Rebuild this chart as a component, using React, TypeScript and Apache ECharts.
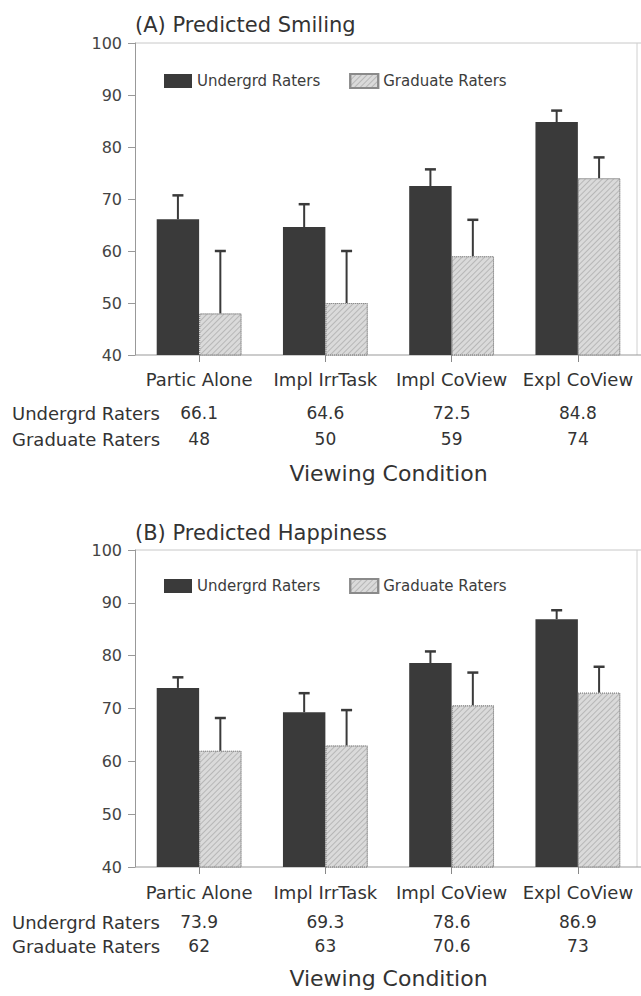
import React, { useEffect, useRef } from "react";
import * as echarts from "echarts";

const categories = ["Partic Alone", "Impl IrrTask", "Impl CoView", "Expl CoView"];
const seriesNames = ["Undergrd Raters", "Graduate Raters"];

// (A) Predicted Smiling
const smileUnder = [66.1, 64.6, 72.5, 84.8];
const smileGrad = [48, 50, 59, 74];
const smileUnderErrTop = [70.7, 69, 75.7, 87];
const smileGradErrTop = [60, 60, 66, 78];

// (B) Predicted Happiness
const happyUnder = [73.9, 69.3, 78.6, 86.9];
const happyGrad = [62, 63, 70.6, 73];
const happyUnderErrTop = [75.9, 72.9, 80.8, 88.6];
const happyGradErrTop = [68.2, 69.7, 76.8, 77.9];

const yTicks = { min: 40, max: 100, interval: 10 };

const FONT = "DejaVu Sans";
const TEXT = "#333";
const DARK = "#3a3a3a";
const BAR_FRAC = 0.336;

const panels = [
  { title: "(A) Predicted Smiling", under: smileUnder, grad: smileGrad, uErr: smileUnderErrTop, gErr: smileGradErrTop },
  { title: "(B) Predicted Happiness", under: happyUnder, grad: happyGrad, uErr: happyUnderErrTop, gErr: happyGradErrTop },
];

const layout = [
  { top: 43, height: 312, titleTop: 13, legendTop: 73, lab: 24, row1: 58, row2: 84, nameGap: 118 },
  { top: 550, height: 317, titleTop: 521, legendTop: 578, lab: 25, row1: 55, row2: 79, nameGap: 111 },
];

function errRender(side: number) {
  return (params: any, api: any) => {
    const i = api.value(0);
    const top = api.coord([i, api.value(1)]);
    const base = api.coord([i, api.value(2)]);
    const band = api.size([1, 0])[0];
    const x = top[0] + (side * band * BAR_FRAC) / 2;
    return {
      type: "group",
      children: [
        { type: "line", shape: { x1: x, y1: base[1], x2: x, y2: top[1] }, style: { stroke: DARK, lineWidth: 2 } },
        { type: "line", shape: { x1: x - 5.5, y1: top[1], x2: x + 5.5, y2: top[1] }, style: { stroke: DARK, lineWidth: 2.5 } },
      ],
    };
  };
}

export default function App() {
  const ref = useRef<HTMLDivElement>(null);
  useEffect(() => {
    if (!ref.current) return;
    const chart = echarts.init(ref.current, null, { renderer: "svg" });

    const grids: any[] = [];
    const xAxes: any[] = [];
    const yAxes: any[] = [];
    const series: any[] = [];
    const titles: any[] = [];
    const legends: any[] = [];
    const graphics: any[] = [];

    panels.forEach((p, k) => {
      const L = layout[k];
      grids.push({ left: 136, top: L.top, width: 512, height: L.height });
      titles.push({
        text: p.title,
        left: 135,
        top: L.titleTop,
        padding: 0,
        textStyle: { fontFamily: FONT, fontSize: 21, fontWeight: "normal", color: TEXT, lineHeight: 24 },
      });
      legends.push({
        data: seriesNames,
        left: 164,
        top: L.legendTop,
        padding: 0,
        itemWidth: 28,
        itemHeight: 14,
        itemGap: 29,
        icon: "rect",
        selectedMode: false,
        textStyle: { fontFamily: FONT, fontSize: 15, color: "#3c3c3c" },
      });
      const xBase = xAxes.length;
      xAxes.push({
        type: "category",
        gridIndex: k,
        position: "bottom",
        data: categories,
        axisLine: { show: false },
        axisTick: { show: true, alignWithLabel: true, length: 7, lineStyle: { color: "#888" } },
        axisLabel: { interval: 0, margin: L.lab, verticalAlign: "middle", fontFamily: FONT, fontSize: 18, color: TEXT },
        name: "Viewing Condition",
        nameLocation: "middle",
        nameGap: L.nameGap,
        nameTextStyle: { fontFamily: FONT, fontSize: 22, color: TEXT, verticalAlign: "middle" },
      });
      [p.under, p.grad].forEach((vals, r) => {
        xAxes.push({
          type: "category",
          gridIndex: k,
          position: "bottom",
          data: vals.map((v) => String(v)),
          axisLine: { show: false },
          axisTick: { show: false },
          axisLabel: {
            interval: 0,
            margin: r === 0 ? L.row1 : L.row2,
            verticalAlign: "middle",
            fontFamily: FONT,
            fontSize: 17,
            color: TEXT,
          },
        });
        graphics.push({
          type: "text",
          x: 12,
          y: L.top + L.height + (r === 0 ? L.row1 : L.row2),
          style: { text: seriesNames[r], fontFamily: FONT, fontSize: 18, fill: TEXT, align: "left", verticalAlign: "middle" },
        });
      });
      yAxes.push({
        type: "value",
        gridIndex: k,
        min: yTicks.min,
        max: yTicks.max,
        interval: yTicks.interval,
        offset: 1,
        axisLine: { show: true, lineStyle: { color: "#999" } },
        axisTick: { show: true, length: 7, lineStyle: { color: "#999" } },
        splitLine: { show: false },
        axisLabel: { margin: 13, fontFamily: FONT, fontSize: 16, color: "#444" },
      });
      const y0 = L.top;
      const y1 = L.top + L.height;
      graphics.push(
        { type: "line", shape: { x1: 135, y1: y0, x2: 641, y2: y0 }, style: { stroke: "#c8c8c8", lineWidth: 1 } },
        { type: "line", shape: { x1: 637, y1: y0, x2: 637, y2: y1 }, style: { stroke: "#d0d0d0", lineWidth: 1 } },
        { type: "line", shape: { x1: 135, y1: y1, x2: 641, y2: y1 }, style: { stroke: "#999", lineWidth: 1 } }
      );

      series.push(
        {
          name: seriesNames[0],
          type: "bar",
          xAxisIndex: xBase,
          yAxisIndex: k,
          data: p.under,
          barWidth: `${BAR_FRAC * 100}%`,
          barGap: "0%",
          itemStyle: { color: DARK },
        },
        {
          name: seriesNames[1],
          type: "bar",
          xAxisIndex: xBase,
          yAxisIndex: k,
          data: p.grad,
          barWidth: `${BAR_FRAC * 100}%`,
          barGap: "0%",
          itemStyle: {
            color: "#dadada",
            borderColor: "#8a8a8a",
            borderWidth: 1,
            borderType: "dotted",
            decal: {
              symbol: "rect",
              symbolSize: 1,
              color: "rgba(130,130,130,0.4)",
              dashArrayX: [1, 0],
              dashArrayY: [1, 3],
              rotation: -Math.PI / 4,
            },
          },
        },
        {
          type: "custom",
          xAxisIndex: xBase,
          yAxisIndex: k,
          z: 5,
          renderItem: errRender(-1),
          data: p.uErr.map((t, i) => [i, t, p.under[i]]),
        },
        {
          type: "custom",
          xAxisIndex: xBase,
          yAxisIndex: k,
          z: 5,
          renderItem: errRender(1),
          data: p.gErr.map((t, i) => [i, t, p.grad[i]]),
        }
      );
    });

    chart.setOption({
      animation: false,
      backgroundColor: "#fff",
      title: titles,
      legend: legends,
      grid: grids,
      xAxis: xAxes,
      yAxis: yAxes,
      series,
      graphic: graphics,
    });
    return () => chart.dispose();
  }, []);

  return <div ref={ref} style={{ position: "absolute", left: 0, top: 0, width: 641, height: 996 }} />;
}
